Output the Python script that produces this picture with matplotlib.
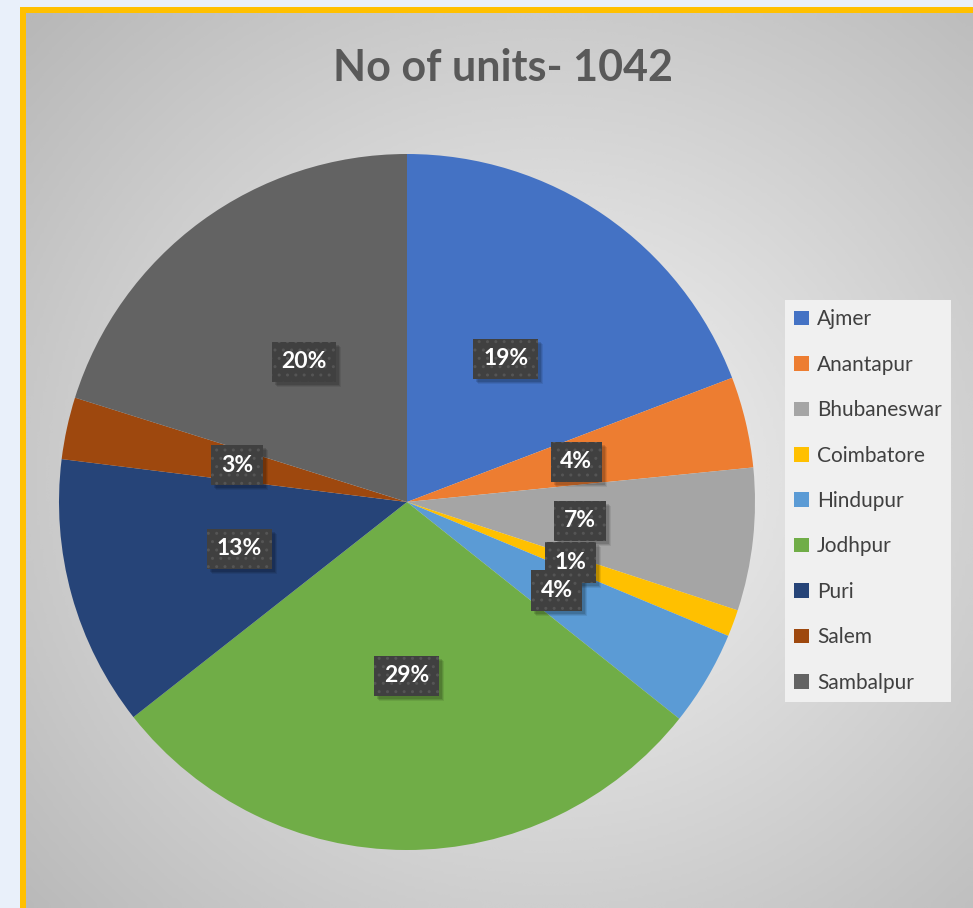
import matplotlib.pyplot as plt
import numpy as np
from matplotlib.patches import Rectangle, Patch

# data (total 1042 units)
cities = ["Ajmer", "Anantapur", "Bhubaneswar", "Coimbatore", "Hindupur",
          "Jodhpur", "Puri", "Salem", "Sambalpur"]
units = [200, 44, 69, 13, 46, 299, 131, 30, 210]
colors = ["#4472C4", "#ED7D31", "#A5A5A5", "#FFC000", "#5B9BD5",
          "#70AD47", "#264478", "#9E480E", "#636363"]
title = "No of units- 1042"

W, H = 973, 908
fig = plt.figure(figsize=(W / 100, H / 100), dpi=100)
fig.patch.set_facecolor("#E9F0FA")

# yellow frame + grey gradient panel
frame = fig.add_axes([20 / W, 0, 1 - 20 / W, 1 - 7 / H], zorder=0)
frame.set_facecolor("#FFC000")
frame.set_xticks([])
frame.set_yticks([])
for s in frame.spines.values():
    s.set_visible(False)

bg = fig.add_axes([26 / W, 0, 1 - 26 / W, (H - 13) / H], zorder=1)
gx, gy = np.meshgrid(np.linspace(0, 1, 300), np.linspace(0, 1, 300))
dist = np.sqrt(((gx - 0.55) / 0.75) ** 2 + ((gy - 0.52) / 0.75) ** 2)
shade = np.clip(0.96 - 0.24 * dist, 0.72, 0.96)
bg.imshow(shade, cmap="gray", vmin=0, vmax=1, extent=[0, 1, 0, 1],
          aspect="auto", interpolation="bicubic")
bg.set_axis_off()

# pie
r = 348
cx, cy = 407, 502
ax = fig.add_axes([(cx - r) / W, (H - cy - r) / H, 2 * r / W, 2 * r / H], zorder=2)
ax.patch.set_alpha(0)
wedges, texts, autotexts = ax.pie(
    units, colors=colors, startangle=90, counterclock=False,
    autopct="%1.0f%%", pctdistance=0.5,
    wedgeprops=dict(linewidth=0))
for t in autotexts:
    t.set_color("white")
    t.set_fontsize(16.5)
    t.set_fontweight("bold")
    t.set_family("Lato")
    t.set_zorder(5)
    t.set_bbox(dict(boxstyle="square,pad=0.42", facecolor="#404040",
                    edgecolor="#555555", linewidth=0, hatch=".."))
ax.set_xlim(-1, 1)
ax.set_ylim(-1, 1)
ax.set_aspect("auto")

fig.text(503 / W, 1 - 68 / H, title, ha="center", va="center",
         fontsize=31, fontweight="bold", color="#595959", family="Lato")

handles = [Patch(facecolor=c, edgecolor="none") for c in colors]
leg = fig.legend(handles, cities, loc="upper left",
                 bbox_to_anchor=(785 / W, 1 - 300 / H),
                 prop=dict(family="Lato", size=15), labelcolor="#404040",
                 frameon=True, fancybox=False, facecolor="#F0F0F0",
                 edgecolor="none", framealpha=1,
                 handlelength=0.7, handleheight=0.7, handletextpad=0.4,
                 labelspacing=1.22, borderpad=0.45, borderaxespad=0)
leg.set_zorder(3)

# soft drop shadow behind each label box
fig.canvas.draw()
for t in autotexts:
    bb = t.get_bbox_patch().get_window_extent()
    for off, a in [(3, 0.12), (4, 0.1), (5, 0.08)]:
        ax.add_artist(Rectangle((bb.x0 + off, bb.y0 - off), bb.width, bb.height,
                                transform=None, facecolor="black", alpha=a,
                                edgecolor="none", zorder=4))

fig.savefig("out.png", dpi=100, facecolor=fig.get_facecolor())
